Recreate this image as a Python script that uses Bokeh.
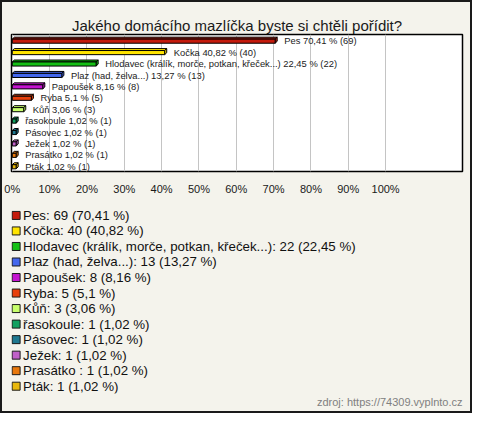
from bokeh.plotting import figure
from bokeh.layouts import column
from bokeh.models import ColumnDataSource, Range1d, FixedTicker, Title
from bokeh.core.properties import value
from bokeh.embed import file_html
from bokeh.resources import INLINE

# ---- data ----
categories = ["Pes", "Kočka", "Hlodavec (králík, morče, potkan, křeček...)",
              "Plaz (had, želva...)", "Papoušek", "Ryba", "Kůň", "řasokoule",
              "Pásovec", "Ježek", "Prasátko ", "Pták"]
counts = [69, 40, 22, 13, 8, 5, 3, 1, 1, 1, 1, 1]
percents = [70.41, 40.82, 22.45, 13.27, 8.16, 5.1, 3.06, 1.02, 1.02, 1.02, 1.02, 1.02]
colors = ["#c41a0c", "#ffe400", "#14c014", "#4468ee", "#c414d0", "#e8400c",
          "#c8ff6c", "#10a060", "#1e7890", "#c060c8", "#e8780c", "#e8b80c"]
tick_values = [0, 10, 20, 30, 40, 50, 60, 70, 80, 90, 100]
tick_labels = ["0%", "10%", "20%", "30%", "40%", "50%", "60%", "70%", "80%", "90%", "100%"]
title_text = "Jakého domácího mazlíčka byste si chtěli pořídit?"
source_text = "zdroj: https://74309.vyplnto.cz"

FONT = "Liberation Sans"
BG = "#f4f3ec"
BAR_H = 0.36   # front face height (rows)
DY = 0.17      # 3D depth, vertical (rows)
DX = 0.55      # 3D depth, horizontal (percent units)

def fmt(p):
    return ("%g" % p).replace(".", ",")

n = len(categories)
rows = list(range(n))
yc = [i + 0.5 for i in rows]
fb = [y + (BAR_H + DY) / 2 for y in yc]
ft = [b - BAR_H for b in fb]

front = ColumnDataSource(dict(left=[0] * n, right=percents, top=ft, bottom=fb, color=colors))
top_faces = ColumnDataSource(dict(
    xs=[[0, v, v + DX, DX] for v in percents],
    ys=[[t, t, t - DY, t - DY] for t in ft],
    color=colors))
side_faces = ColumnDataSource(dict(
    xs=[[v, v + DX, v + DX, v] for v in percents],
    ys=[[t, t - DY, b - DY, b] for t, b in zip(ft, fb)],
    color=colors))
labels = ColumnDataSource(dict(
    x=[v + DX for v in percents], y=[y + 0.05 for y in yc],
    text=[f"{c} {fmt(p)} % ({k})" for c, p, k in zip(categories, percents, counts)]))

# ---- bar chart ----
p = figure(width=468, height=195, x_range=Range1d(-0.21, 120.6), y_range=Range1d(12, 0),
           output_backend="svg", toolbar_location=None, y_axis_location=None,
           min_border_left=9, min_border_right=8, min_border_top=32, min_border_bottom=18)
p.background_fill_color = "white"
p.border_fill_color = BG
p.outline_line_color = "black"
p.outline_line_width = 1.5

p.title.text = title_text
p.title.align = "center"
p.title.text_font = FONT
p.title.text_font_size = "15px"
p.title.text_font_style = "normal"
p.title.text_color = "#1a1a1a"
p.title.standoff = 2

ax = p.xaxis[0]
ax.ticker = FixedTicker(ticks=tick_values)
ax.major_label_overrides = {v: l for v, l in zip(tick_values, tick_labels)}
ax.axis_line_color = None
ax.major_tick_line_color = None
ax.minor_tick_line_color = None
ax.major_label_standoff = 5
ax.major_label_text_font = FONT
ax.major_label_text_font_size = "11px"
ax.major_label_text_color = "#1a1a1a"

p.xgrid.ticker = FixedTicker(ticks=tick_values)
p.xgrid.grid_line_color = "#c4c4c4"
p.ygrid.grid_line_color = None

p.patches("xs", "ys", source=top_faces, fill_color="color", line_color="black", line_width=1)
p.patches("xs", "ys", source=side_faces, fill_color="color", line_color="black", line_width=1)
p.quad(left="left", right="right", top="top", bottom="bottom", source=front,
       fill_color="color", line_color="black", line_width=1)
p.text(x="x", y="y", text="text", source=labels, x_offset=7, text_baseline="middle",
       text_font=value(FONT), text_font_size="9.4px", text_color="#222222")

# ---- legend panel ----
leg = ColumnDataSource(dict(
    x=[0] * n, y=rows, color=colors,
    text=[f"{c}: {k} ({fmt(v)} %)" for c, k, v in zip(categories, counts, percents)]))

q = figure(width=468, height=214, x_range=Range1d(-4.6, 446.4), y_range=Range1d(11.47, -1.09),
           output_backend="svg", toolbar_location=None, x_axis_location=None,
           y_axis_location=None, min_border_left=9, min_border_right=8,
           min_border_top=1, min_border_bottom=18)
q.background_fill_color = BG
q.border_fill_color = BG
q.outline_line_color = None
q.xgrid.grid_line_color = None
q.ygrid.grid_line_color = None
q.scatter(x="x", y="y", source=leg, marker="square", size=8, fill_color="color",
          line_color="#1a1a1a", line_width=1)
q.text(x="x", y="y", text="text", source=leg, x_offset=7, text_baseline="middle",
       text_font=value(FONT), text_font_size="13.3px", text_color="#111111")

src = Title(text=source_text, align="right", text_font=FONT, text_font_size="11px",
            text_color="#808080", text_font_style="normal", standoff=0)
q.add_layout(src, "below")

layout = column(p, q, spacing=0, styles={"border": "2px solid #1a1a1a", "background-color": BG})
open("out.html", "w").write(file_html(layout, INLINE))
